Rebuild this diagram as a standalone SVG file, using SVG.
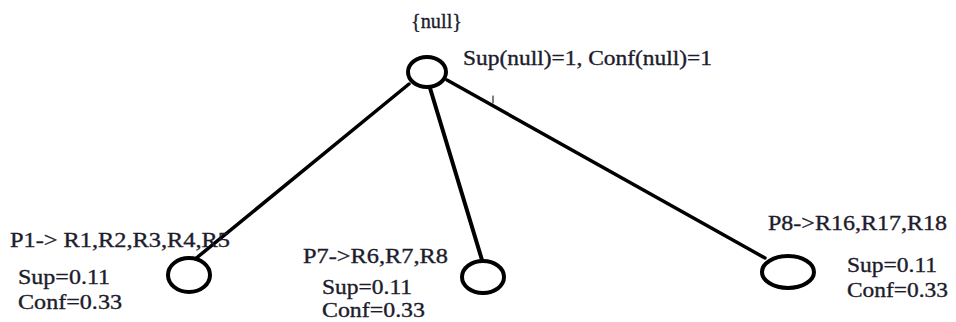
<svg xmlns="http://www.w3.org/2000/svg" width="956" height="322" viewBox="0 0 956 322">
  <style>
    .node { fill: #fff; stroke: #000; stroke-width: 4; }
    .edge { stroke: #000; stroke-linecap: round; fill: none; }
    text { font-family: 'Liberation Serif', 'Times New Roman', serif; font-size: 21px; fill: #1c1c2c; stroke: #1c1c2c; stroke-width: 0.35; }
  </style>
  <rect width="956" height="322" fill="#fff"/>

  <!-- tree edges -->
  <g id="connectors">
    <line class="edge" x1="409" y1="84" x2="194" y2="260" stroke-width="3.5"/>
    <line class="edge" x1="430" y1="88" x2="482" y2="260" stroke-width="4"/>
    <line class="edge" x1="447" y1="80" x2="765" y2="258" stroke-width="3.5"/>
    <line class="edge" x1="493" y1="96" x2="493" y2="103" stroke-width="1"/>
  </g>

  <!-- root -->
  <g id="root">
    <ellipse class="node" cx="427" cy="72" rx="19" ry="15"/>
    <text x="411" y="28" textLength="51" lengthAdjust="spacingAndGlyphs">{null}</text>
    <text x="463" y="65" textLength="249" lengthAdjust="spacingAndGlyphs">Sup(null)=1, Conf(null)=1</text>
  </g>

  <!-- P1 -->
  <g id="p1">
    <ellipse class="node" cx="189" cy="275" rx="21" ry="17"/>
    <text x="10" y="247" textLength="220" lengthAdjust="spacingAndGlyphs">P1-&gt; R1,R2,R3,R4,R5</text>
    <text x="18" y="284" textLength="92" lengthAdjust="spacingAndGlyphs">Sup=0.11</text>
    <text x="18" y="309" textLength="104" lengthAdjust="spacingAndGlyphs">Conf=0.33</text>
  </g>

  <!-- P7 -->
  <g id="p7">
    <ellipse class="node" cx="483" cy="277" rx="21" ry="16"/>
    <text x="303" y="263" textLength="145" lengthAdjust="spacingAndGlyphs">P7-&gt;R6,R7,R8</text>
    <text x="322" y="294" textLength="90" lengthAdjust="spacingAndGlyphs">Sup=0.11</text>
    <text x="322" y="317" textLength="103" lengthAdjust="spacingAndGlyphs">Conf=0.33</text>
  </g>

  <!-- P8 -->
  <g id="p8">
    <ellipse class="node" cx="788" cy="272" rx="26" ry="16"/>
    <text x="768" y="230" textLength="179" lengthAdjust="spacingAndGlyphs">P8-&gt;R16,R17,R18</text>
    <text x="847" y="272" textLength="90" lengthAdjust="spacingAndGlyphs">Sup=0.11</text>
    <text x="847" y="297" textLength="101" lengthAdjust="spacingAndGlyphs">Conf=0.33</text>
  </g>
</svg>
